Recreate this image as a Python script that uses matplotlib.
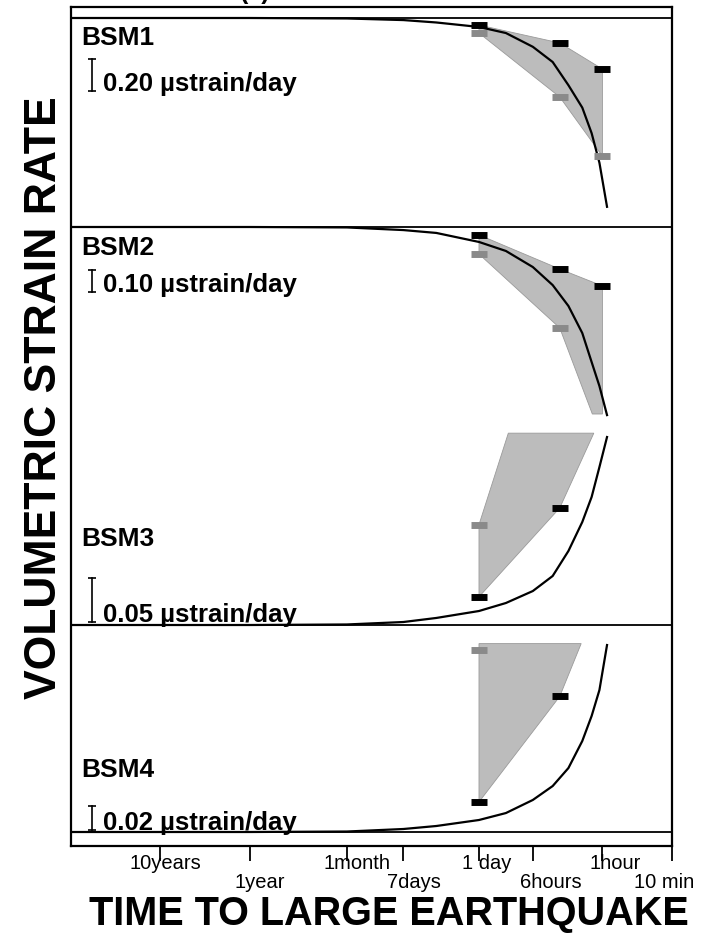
import matplotlib
matplotlib.use('Agg')
import matplotlib.pyplot as plt
import matplotlib.transforms as mtransforms
from matplotlib.ticker import NullLocator

plt.rcParams['font.family'] = ['Liberation Sans', 'DejaVu Sans']

# time before the large earthquake, in days
curve_days = [36525, 3652.5, 365.25, 30, 7, 3, 1, 0.5, 0.25, 0.15, 0.1, 0.07, 0.055, 0.045, 0.037]

# model curves of volumetric strain rate (ustrain/day)
bsm1_curve = [0, 0, 0, -0.003, -0.013, -0.028, -0.056, -0.094, -0.18, -0.275, -0.42, -0.56, -0.72, -0.905, -1.18]
bsm2_curve = [0, 0, 0, -0.002, -0.014, -0.027, -0.068, -0.109, -0.182, -0.264, -0.359, -0.482, -0.614, -0.723, -0.855]
bsm3_curve = [0, 0, 0, 0.0006, 0.0034, 0.008, 0.0159, 0.025, 0.0386, 0.0557, 0.0841, 0.117, 0.1455, 0.1795, 0.2136]
bsm4_curve = [0, 0, 0, 0.0004, 0.0025, 0.005, 0.01, 0.0158, 0.0267, 0.0383, 0.0533, 0.0758, 0.0967, 0.1183, 0.1558]

# observed ranges (outline of the shaded areas)
bsm1_band_days = [1, 0.125, 1 / 24, 1 / 24, 0.125, 1]
bsm1_band_vals = [-0.044, -0.156, -0.319, -0.863, -0.494, -0.094]
bsm2_band_days = [1, 0.125, 1 / 24, 1 / 24, 0.054, 0.125, 1]
bsm2_band_vals = [-0.036, -0.191, -0.268, -0.85, -0.85, -0.459, -0.123]
bsm3_band_days = [1, 0.47, 0.052, 0.125, 1]
bsm3_band_vals = [0.114, 0.218, 0.218, 0.133, 0.032]
bsm4_band_days = [1, 1, 0.072, 0.125]
bsm4_band_vals = [0.025, 0.157, 0.157, 0.113]

# black and grey markers
bsm1_black_days, bsm1_black = [1, 0.125, 1 / 24], [-0.044, -0.156, -0.319]
bsm1_grey_days, bsm1_grey = [1, 0.125, 1 / 24], [-0.094, -0.494, -0.863]
bsm2_black_days, bsm2_black = [1, 0.125, 1 / 24], [-0.036, -0.191, -0.268]
bsm2_grey_days, bsm2_grey = [1, 0.125], [-0.123, -0.459]
bsm3_black_days, bsm3_black = [1, 0.125], [0.032, 0.133]
bsm3_grey_days, bsm3_grey = [1], [0.114]
bsm4_black_days, bsm4_black = [1, 0.125], [0.025, 0.113]
bsm4_grey_days, bsm4_grey = [1], [0.152]

stations = ['BSM1', 'BSM2', 'BSM3', 'BSM4']
scale_values = [0.20, 0.10, 0.05, 0.02]
scale_labels = ['0.20 \u00b5strain/day', '0.10 \u00b5strain/day', '0.05 \u00b5strain/day', '0.02 \u00b5strain/day']

tick_days = [3652.5, 365.25, 30, 7, 1, 0.25, 1 / 24, 1 / 144]
tick_labels = ['10years', '1year', '1month', '7days', '1 day', '6hours', '1hour', '10 min']

curves = [bsm1_curve, bsm2_curve, bsm3_curve, bsm4_curve]
bands = [(bsm1_band_days, bsm1_band_vals), (bsm2_band_days, bsm2_band_vals),
         (bsm3_band_days, bsm3_band_vals), (bsm4_band_days, bsm4_band_vals)]
blacks = [(bsm1_black_days, bsm1_black), (bsm2_black_days, bsm2_black),
          (bsm3_black_days, bsm3_black), (bsm4_black_days, bsm4_black)]
greys = [(bsm1_grey_days, bsm1_grey), (bsm2_grey_days, bsm2_grey),
         (bsm3_grey_days, bsm3_grey), (bsm4_grey_days, bsm4_grey)]

# layout (pixels)
W, H = 704, 933
L, R, T, B = 71, 672, 7, 846
baseline_px = [18, 227, 625, 832]
px_per_unit = [160, 220, 880, 1200]
bar_bottom_px = [91, 292, 622, 830]
name_y_px = [45, 255, 546, 777]
label_y_px = [91, 292, 622, 830]
label_dx = [5, 10, 10, 11, 8, 18, 13, -8]
label_row = [0, 1, 0, 1, 0, 1, 0, 1]

fig = plt.figure(figsize=(W / 100, H / 100), dpi=100)
rect = [L / W, 1 - B / H, (R - L) / W, (B - T) / H]

ax = fig.add_axes(rect)
ax.set_xscale('log')
ax.set_xlim(36525, 1 / 144)
ax.set_ylim(0, 1)
ax.set_yticks([])
ax.set_xticks(tick_days)
ax.set_xticklabels([])
ax.xaxis.set_minor_locator(NullLocator())
ax.tick_params(axis='x', direction='out', length=11, width=1.3)
for sp in ax.spines.values():
    sp.set_linewidth(1.6)

for d, lab, dx, row in zip(tick_days, tick_labels, label_dx, label_row):
    tr = mtransforms.blended_transform_factory(ax.transData, fig.transFigure) + \
        mtransforms.ScaledTranslation(dx / 100, 0, fig.dpi_scale_trans)
    y = 1 - (869 if row == 0 else 888) / H
    ax.text(d, y, lab, transform=tr, ha='center', va='baseline', fontsize=14.5)

for i, name in enumerate(stations):
    sa = fig.add_axes(rect, sharex=ax)
    sa.patch.set_visible(False)
    sa.axis('off')
    b, s = baseline_px[i], px_per_unit[i]
    sa.set_ylim((b - B) / s, (b - T) / s)
    sa.axhline(0, color='black', lw=1.3)

    bd, bv = bands[i]
    sa.fill(bd, bv, facecolor='#bcbcbc', edgecolor='#9a9a9a', lw=0.6, zorder=1)
    sa.plot(curve_days, curves[i], color='black', lw=1.6, zorder=3)
    sa.plot(*greys[i], ls='none', marker='_', ms=12, mew=5, color='#8a8a8a', zorder=4)
    sa.plot(*blacks[i], ls='none', marker='_', ms=12, mew=5, color='black', zorder=4)

    # scale bar
    btr = mtransforms.blended_transform_factory(sa.transAxes, sa.transData)
    y0 = (b - bar_bottom_px[i]) / s
    bx = (92 - L) / (R - L)
    sa.plot([bx, bx], [y0, y0 + scale_values[i]], transform=btr, color='black', lw=1.2,
            marker='_', ms=6, mew=1.2)

    fig.text(81 / W, 1 - name_y_px[i] / H, name, fontsize=19, fontweight='bold', va='baseline')
    fig.text(103 / W, 1 - label_y_px[i] / H, scale_labels[i], fontsize=18.5, fontweight='bold',
             va='baseline')

fig.text(45 / W, 1 - 398 / H, 'VOLUMETRIC STRAIN RATE', rotation=90, ha='center', va='center',
         fontsize=32, fontweight='bold')
fig.text(389 / W, 1 - 925 / H, 'TIME TO LARGE EARTHQUAKE', ha='center', va='baseline',
         fontsize=28.5, fontweight='bold')
fig.text(255 / W, 1 + 1 / H, '(a)', ha='center', va='baseline', fontsize=18, fontweight='bold')

fig.savefig('out.png', dpi=100)
